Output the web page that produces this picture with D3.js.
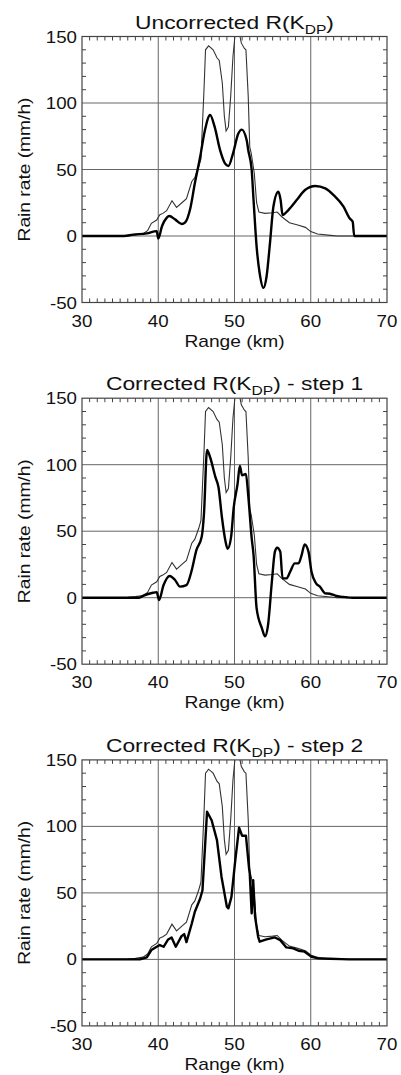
<!DOCTYPE html>
<html>
<head>
<meta charset="utf-8">
<script src="https://cdn.jsdelivr.net/npm/d3@7"></script>
<style>
  body { margin: 0; background: #fff; }
  svg { display: block; font-family: "Liberation Sans", Arial, Helvetica, sans-serif; fill: #111; }
  .grid line { stroke: #666; stroke-width: 1; }
  .frame { fill: none; stroke: #444; stroke-width: 1.2; }
  .tick-minor { stroke: #444; stroke-width: 1; }
  .ref { fill: none; stroke: #333; stroke-width: 1.1; }
  .est { fill: none; stroke: #000; stroke-width: 2.4; stroke-linejoin: round; }
</style>
</head>
<body>
<div id="chart"></div>
<script>
'use strict';

// thin line: reference rain rate, same on every panel
const refRange = [30,35,36,37,38,38.6,39.1,39.8,40.2,40.6,41.1,41.8,42.4,43.1,43.7,44.4,44.8,45.3,45.6,46.0,46.2,46.6,47.2,47.7,48.0,48.4,48.67,48.9,49.2,49.5,49.8,50.05,50.3,50.72,50.9,51.3,51.5,51.8,52.0,52.2,52.6,52.9,53.2,54.0,55.0,55.6,56.2,57.2,58.3,59.3,60.0,60.9,62.6,63.5,70]
const refRate  = [0,0,0.3,0.8,1.7,4,9.5,12,16,17,19,26.5,21.5,25,28,41,44,52,58,110,140,143,140,134,132,115,90,79,82,105,135,150,175,150,145,141,140,105,67,62,47,25,18,17,17.5,18,14.5,10,8.3,6.5,3.3,1.5,0.5,0,0]

// thick lines: R(KDP) before and after correction
const uncorrRange = [30,35.5,36.7,38.5,39.8,40.0,40.5,41.1,41.45,42.2,43.1,43.5,44.2,44.8,45.5,46.1,46.8,47.4,48.1,48.75,49.2,49.8,50.5,50.95,51.6,51.8,52.25,52.5,52.9,53.3,53.8,54.2,54.65,55.1,55.75,56.05,56.3,57.06,58.15,59.25,60.6,61.9,63.0,64.3,65.1,65.5,65.7,70]
const uncorrRate  = [0,0,1,2,3.7,-2,7.5,13.6,15,12.5,9,10,20.7,39.6,59.6,79,91,82,64.7,54.6,52.6,62,77,80,72,64.7,50,27,-8,-28,-39,-30.6,-5.5,22,33.3,27,15.8,19.5,27,34.6,37.6,35.8,30.8,22,13.3,10.8,0,0]

const step1Range = [30,37.5,38.0,39.3,39.8,40.1,40.7,41.5,42.2,42.85,43.7,44.4,45.0,45.7,46.0,46.4,46.8,47.5,47.9,48.35,48.8,49.1,49.55,49.9,50.4,50.7,51.0,51.5,51.8,52.25,52.5,52.9,53.6,54.0,54.4,54.9,55.3,55.6,56.0,56.3,56.8,57.3,57.9,58.4,58.8,59.2,59.7,60.1,60.7,61.2,61.9,62.5,63.4,64.7,65.5,70]
const step1Rate  = [0,0,1.3,3.7,4.2,-1.7,9.5,16.3,13.3,8.3,9.5,20.8,35.8,45.8,63.4,111,105.6,90.6,83,60.5,43,36.8,45.5,68,85.5,99,92,93,77,45,32,-8,-23,-29,-20.5,12,34.6,37.6,34.6,14.5,14.5,19.5,25.8,25.8,32,40,34.6,19.5,10.8,8.3,3.3,3,1.3,0.3,0,0]

const step2Range = [30,37.6,38.5,39.1,39.8,40.2,40.7,41.3,41.75,42.3,43.05,43.4,43.7,44.4,44.8,45.5,45.8,46.4,47.0,47.7,48.3,49.0,49.2,49.6,50.1,50.6,51.0,51.5,51.9,52.0,52.25,52.45,52.7,53.1,53.3,54.2,55.3,56.0,56.8,57.7,58.4,59.2,60.1,61.0,62.5,64,65,70]
const step2Rate  = [0,0,1.5,7,9.5,10.8,9.5,15,16.5,9.5,17.5,19,13,27,35.8,45.8,52,111,104.6,89.7,62,39.6,38.4,47,74.4,99,93,93,69,64.6,34.6,59.6,32,17,13.3,15,16.5,14.5,9,8.3,6.5,5.8,2,0.8,0.5,0.2,0,0]

const titles = ['Uncorrected R(K', 'Corrected R(K', 'Corrected R(K']
const titleTails = [')', ') - step 1', ') - step 2']
const xTicks = [30,40,50,60,70]
const yTicks = [-50,0,50,100,150]

const panels = [
  {range: uncorrRange, rate: uncorrRate},
  {range: step1Range, rate: step1Rate},
  {range: step2Range, rate: step2Rate},
]

const W = 401, H = 1075
const m = {left: 82, top: 36.5}
const w = 305, h = 266
const panelStep = 361.7

const svg = d3.select('#chart').append('svg').attr('width', W).attr('height', H)

const x = d3.scaleLinear().domain([30,70]).range([0,w])
const y = d3.scaleLinear().domain([-50,150]).range([h,0])

const toPts = (rs, vs) => rs.map((r,i) => [r, vs[i]])

const thinLine = d3.line().x(d => x(d[0])).y(d => y(d[1]))
const thickLine = d3.line().curve(d3.curveMonotoneX).x(d => x(d[0])).y(d => y(d[1]))

// the lettering in the figure is a bit wide, so stretch it sideways
const label = (sel, tx, ty, size, sx, rot) => sel.append('text')
  .attr('transform', 'translate(' + tx + ',' + ty + ')' + (rot ? ' rotate(' + rot + ')' : '') + ' scale(' + sx + ',1)')
  .style('font-size', size + 'px')

panels.forEach((p, k) => {
  const g = svg.append('g').attr('transform', 'translate(' + m.left + ',' + (m.top + k*panelStep) + ')')

  g.append('clipPath').attr('id', 'clip' + k)
    .append('rect').attr('width', w).attr('height', h)

  // grid lines at major ticks
  g.append('g').attr('class', 'grid')
    .selectAll('line').data(xTicks.slice(1,-1)).enter().append('line')
      .attr('x1', d => x(d)).attr('x2', d => x(d)).attr('y1', 0).attr('y2', h)
  g.append('g').attr('class', 'grid')
    .selectAll('line').data(yTicks.slice(1,-1)).enter().append('line')
      .attr('y1', d => y(d)).attr('y2', d => y(d)).attr('x1', 0).attr('x2', w)

  // minor ticks, inward, all four sides
  const xMinor = d3.range(31,70).filter(d => d % 10 != 0)
  const yMinor = d3.range(-40,150,10).filter(d => d % 50 != 0)
  const tl = 4
  g.append('g').selectAll('line').data(xMinor).enter().append('line').attr('class','tick-minor')
    .attr('x1', d => x(d)).attr('x2', d => x(d)).attr('y1', h).attr('y2', h - tl)
  g.append('g').selectAll('line').data(xMinor).enter().append('line').attr('class','tick-minor')
    .attr('x1', d => x(d)).attr('x2', d => x(d)).attr('y1', 0).attr('y2', tl)
  g.append('g').selectAll('line').data(yMinor).enter().append('line').attr('class','tick-minor')
    .attr('y1', d => y(d)).attr('y2', d => y(d)).attr('x1', 0).attr('x2', tl)
  g.append('g').selectAll('line').data(yMinor).enter().append('line').attr('class','tick-minor')
    .attr('y1', d => y(d)).attr('y2', d => y(d)).attr('x1', w).attr('x2', w - tl)

  // data
  const plot = g.append('g').attr('clip-path', 'url(#clip' + k + ')')
  plot.append('path').attr('class', 'ref').attr('d', thinLine(toPts(refRange, refRate)))
  plot.append('path').attr('class', 'est')
    .attr('d', (k == 2 ? thinLine : thickLine)(toPts(p.range, p.rate)))

  g.append('rect').attr('class', 'frame').attr('width', w).attr('height', h)

  // tick labels
  xTicks.forEach(d => label(g, x(d), h + 24, 17, 1.1).attr('text-anchor', 'middle').text(d))
  yTicks.forEach(d => label(g, -5, y(d) + 6, 17, 1.1).attr('text-anchor', 'end').text(d))

  label(g, w/2, h + 44, 16, 1.2).attr('text-anchor', 'middle').text('Range (km)')
  label(g, -52, h/2, 16, 1.2, -90).attr('text-anchor', 'middle').text('Rain rate (mm/h)')

  const t = label(g, w/2, -8, 19, 1.2).attr('text-anchor', 'middle')
  t.append('tspan').text(titles[k])
  t.append('tspan').attr('dy', 5).style('font-size', '13px').text('DP')
  t.append('tspan').attr('dy', -5).text(titleTails[k])
})
</script>
</body>
</html>
